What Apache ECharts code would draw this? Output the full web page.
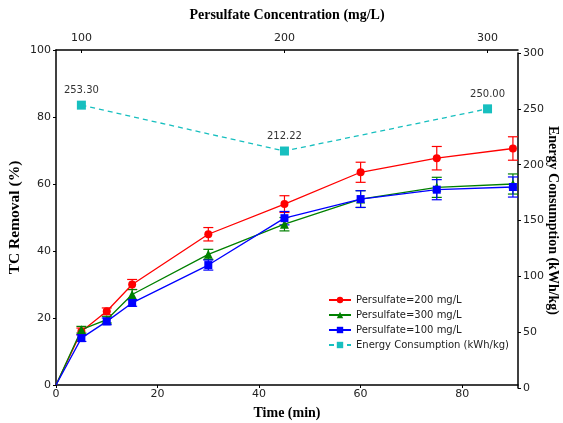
<!DOCTYPE html>
<html>
<head>
<meta charset="utf-8">
<script src="https://cdn.jsdelivr.net/npm/echarts@6/dist/echarts.min.js"></script>
<style>
html, body { margin: 0; padding: 0; background: #fff; }
#chart { width: 563px; height: 423px; }
</style>
</head>
<body>
<div id="chart"></div>
<script>
var times = [0, 5, 10, 15, 30, 45, 60, 75, 90];
var removal200 = [0, 16.0, 22.0, 30.0, 45.0, 54.0, 63.5, 67.7, 70.6];
var err200 = [0, 1.0, 1.0, 1.5, 2.0, 2.5, 3.0, 3.5, 3.5];
var removal300 = [0, 16.5, 19.5, 27.0, 39.0, 48.0, 55.5, 59.0, 60.0];
var err300 = [0, 1.0, 1.0, 1.5, 1.5, 2.0, 2.5, 3.0, 3.0];
var removal100 = [0, 14.0, 19.0, 24.5, 35.8, 49.8, 55.5, 58.3, 59.1];
var err100 = [0, 1.0, 1.0, 1.0, 1.5, 2.0, 2.5, 3.0, 3.0];

var energyTimes = [5, 45, 85];
var energyValues = [253.30, 212.22, 250.00];

var timeTicks = [0, 20, 40, 60, 80];
var concTicks = [100, 200, 300];

function pairs(xs, ys) {
    return xs.map(function (x, i) {
        if (x === 0) return { value: [x, ys[i]], symbol: 'none' };
        return [x, ys[i]];
    });
}

function errData(xs, ys, es) {
    var out = [];
    xs.forEach(function (x, i) {
        if (es[i] > 0) out.push([x, ys[i] - es[i], ys[i] + es[i]]);
    });
    return out;
}

function errSeries(data, color) {
    return {
        type: 'custom',
        xAxisIndex: 0,
        yAxisIndex: 0,
        data: data,
        z: 3,
        silent: true,
        renderItem: function (params, api) {
            var lo = api.coord([api.value(0), api.value(1)]);
            var hi = api.coord([api.value(0), api.value(2)]);
            var w = 5;
            var st = { stroke: color, lineWidth: 1.2 };
            return {
                type: 'group',
                children: [
                    { type: 'line', shape: { x1: lo[0], y1: lo[1], x2: hi[0], y2: hi[1] }, style: st },
                    { type: 'line', shape: { x1: lo[0] - w, y1: lo[1], x2: lo[0] + w, y2: lo[1] }, style: st },
                    { type: 'line', shape: { x1: hi[0] - w, y1: hi[1], x2: hi[0] + w, y2: hi[1] }, style: st }
                ]
            };
        }
    };
}

var axisLineStyle = { color: '#000', width: 1.5 };
var tickLabel = { color: '#222', fontSize: 11, fontFamily: 'DejaVu Sans' };
var titleFont = { color: '#000', fontSize: 14, fontWeight: 'bold', fontFamily: 'Liberation Serif' };

var myChart = echarts.init(document.getElementById('chart'));

var option = {
    animation: false,
    backgroundColor: '#fff',
    grid: [
        { left: 56, right: 45, top: 50, bottom: 38, outerBoundsMode: 'none' },
        // the energy axis sits a few pixels lower than the removal axis in the figure
        { left: 56, right: 45, top: 53, bottom: 35, outerBoundsMode: 'none' }
    ],
    legend: {
        left: 323,
        top: 290,
        orient: 'vertical',
        itemWidth: 22,
        itemHeight: 8,
        itemGap: 5,
        textStyle: { fontSize: 10, color: '#222', fontFamily: 'DejaVu Sans' },
        data: ['Persulfate=200 mg/L', 'Persulfate=300 mg/L', 'Persulfate=100 mg/L', 'Energy Consumption (kWh/kg)']
    },
    xAxis: [
        {
            type: 'value',
            gridIndex: 0,
            min: 0,
            max: 91,
            position: 'bottom',
            name: 'Time (min)',
            nameLocation: 'middle',
            nameGap: 21,
            nameMoveOverlap: false,
            nameTextStyle: titleFont,
            axisLine: { lineStyle: axisLineStyle },
            axisTick: { customValues: timeTicks, length: 3, lineStyle: { color: '#000' } },
            axisLabel: Object.assign({ customValues: timeTicks, margin: 4 }, tickLabel),
            splitLine: { show: false }
        },
        {
            type: 'value',
            gridIndex: 0,
            min: 87.5,
            max: 315,
            position: 'top',
            name: 'Persulfate Concentration (mg/L)',
            nameLocation: 'middle',
            nameGap: 28,
            nameMoveOverlap: false,
            nameTextStyle: titleFont,
            axisLine: { lineStyle: axisLineStyle },
            axisTick: { customValues: concTicks, inside: true, length: 3, lineStyle: { color: '#000' } },
            axisLabel: Object.assign({ customValues: concTicks, margin: 6 }, tickLabel),
            splitLine: { show: false }
        },
        {
            type: 'value',
            gridIndex: 1,
            min: 0,
            max: 91,
            show: false
        }
    ],
    yAxis: [
        {
            type: 'value',
            gridIndex: 0,
            min: 0,
            max: 100,
            interval: 20,
            name: 'TC Removal (%)',
            nameLocation: 'middle',
            nameGap: 33,
            nameMoveOverlap: false,
            nameTextStyle: Object.assign({}, titleFont, { fontSize: 15.5 }),
            axisLine: { show: true, lineStyle: axisLineStyle },
            axisTick: { show: true, length: 3, lineStyle: { color: '#000' } },
            axisLabel: Object.assign({ margin: 5 }, tickLabel),
            splitLine: { show: false }
        },
        {
            type: 'value',
            gridIndex: 1,
            min: 0,
            max: 300,
            interval: 50,
            position: 'right',
            name: 'Energy Consumption (kWh/kg)',
            nameLocation: 'middle',
            nameGap: 28,
            nameMoveOverlap: false,
            nameRotate: -90,
            nameTextStyle: titleFont,
            axisLine: { show: true, onZero: false, lineStyle: axisLineStyle },
            axisTick: { show: true, length: 3, lineStyle: { color: '#000' } },
            axisLabel: Object.assign({ margin: 5 }, tickLabel),
            splitLine: { show: false }
        }
    ],
    series: [
        {
            name: 'Persulfate=200 mg/L',
            type: 'line',
            xAxisIndex: 0,
            yAxisIndex: 0,
            data: pairs(times, removal200),
            symbol: 'circle',
            symbolSize: 8,
            z: 4,
            itemStyle: { color: '#ff0000' },
            lineStyle: { color: '#ff0000', width: 1.3 }
        },
        {
            name: 'Persulfate=300 mg/L',
            type: 'line',
            xAxisIndex: 0,
            yAxisIndex: 0,
            data: pairs(times, removal300),
            symbol: 'triangle',
            symbolSize: 9,
            z: 4,
            itemStyle: { color: '#008000' },
            lineStyle: { color: '#008000', width: 1.3 }
        },
        {
            name: 'Persulfate=100 mg/L',
            type: 'line',
            xAxisIndex: 0,
            yAxisIndex: 0,
            data: pairs(times, removal100),
            symbol: 'rect',
            symbolSize: 8,
            z: 4,
            itemStyle: { color: '#0000ff' },
            lineStyle: { color: '#0000ff', width: 1.3 }
        },
        errSeries(errData(times, removal200, err200), '#ff0000'),
        errSeries(errData(times, removal300, err300), '#008000'),
        errSeries(errData(times, removal100, err100), '#0000ff'),
        {
            name: 'Energy Consumption (kWh/kg)',
            type: 'line',
            xAxisIndex: 2,
            yAxisIndex: 1,
            data: energyTimes.map(function (t, i) { return [t, energyValues[i]]; }),
            symbol: 'rect',
            symbolSize: 9,
            z: 5,
            itemStyle: { color: '#17bfbf' },
            lineStyle: { color: '#17bfbf', width: 1.3, type: [5, 4] },
            label: {
                show: true,
                position: 'top',
                distance: 5,
                fontSize: 10,
                color: '#333',
                fontFamily: 'DejaVu Sans',
                formatter: function (p) { return p.value[1].toFixed(2); }
            }
        }
    ]
};

myChart.setOption(option);
</script>
</body>
</html>
